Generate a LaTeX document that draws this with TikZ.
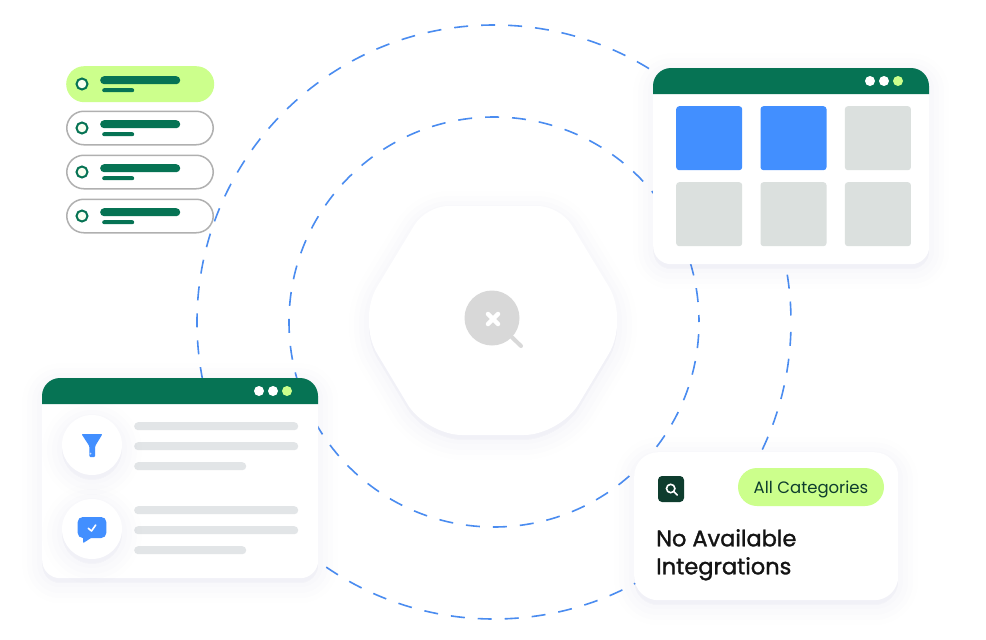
\documentclass[tikz,border=0pt]{standalone}
\usepackage{fontspec}
\setmainfont{Poppins}
\newfontfamily\titlefont{Poppins}[FakeBold=1.4]
\usetikzlibrary{positioning}
\definecolor{ringblue}{RGB}{74, 140, 240}
\definecolor{headgreen}{RGB}{6, 115, 84}
\definecolor{limegreen}{RGB}{204, 255, 140}
\definecolor{tilegray}{RGB}{219, 224, 222}
\definecolor{linegray}{RGB}{226, 229, 231}
\definecolor{pillgray}{RGB}{176, 176, 176}
\definecolor{tileblue}{RGB}{66, 143, 255}
\definecolor{loupegray}{RGB}{216, 216, 216}
\definecolor{darkgreen}{RGB}{14, 61, 46}
\definecolor{shadowblue}{RGB}{90, 100, 140}
\tikzset{
  softshadow/.style={
    preaction={draw=shadowblue, fill=shadowblue, line width=40pt, opacity=.005, transform canvas={yshift=-5pt}},
    preaction={draw=shadowblue, fill=shadowblue, line width=30pt, opacity=.006, transform canvas={yshift=-5pt}},
    preaction={draw=shadowblue, fill=shadowblue, line width=20pt, opacity=.007, transform canvas={yshift=-5pt}},
    preaction={draw=shadowblue, fill=shadowblue, line width=10pt, opacity=.008, transform canvas={yshift=-4pt}}},
  ring/.style={draw=ringblue, line width=1.6pt, dash pattern=on 14pt off 13pt},
  window/.style={softshadow, fill=white, rounded corners=18pt, minimum width=276pt, inner sep=0pt, anchor=north west},
  tile/.style={rounded corners=3pt, minimum width=66pt, minimum height=64pt, inner sep=0pt, anchor=north west},
  pill/.style={rounded corners=17pt, minimum width=146.5pt, minimum height=33.5pt, inner sep=0pt, anchor=north west},
  bar/.style={fill=#1, rounded corners=3.9pt, inner sep=0pt, anchor=north west},
  winbutton/.style={circle, fill=#1, minimum size=10pt, inner sep=0pt},
  badge/.style={softshadow, circle, fill=white, minimum size=60pt, inner sep=0pt}
}
\begin{document}
\begin{tikzpicture}[x=1pt, y=-1pt]
  \useasboundingbox (0,0) rectangle (986,640);
  \fill[white] (0,0) rectangle (986,640);

  % Dashed rings
  \draw[ring, dash phase=20.5pt] (494,322) circle[radius=297pt];
  \draw[ring, dash phase=7pt] (494,322) circle[radius=205pt];

  % Hexagon with loupe
  \path[softshadow, fill=white]
    (493,206) [rounded corners=22pt] -- (560,206) [rounded corners=39pt] -- (629,320)
    [rounded corners=36pt] -- (560,435) -- (426,435) [rounded corners=39pt] -- (357,320)
    [rounded corners=22pt] -- (426,206) -- cycle;
  \node[circle, fill=loupegray, minimum size=55pt, inner sep=0pt] (loupe) at (492,318) {};
  \coordinate (loupeend) at (521,346);
  \draw[loupegray, line width=4pt, line cap=round] (loupe) -- (loupeend);
  \draw[white, line width=4.5pt, line cap=round] (488,314) -- (498,324) (498,314) -- (488,324);

  % Filter list
  \node[pill, rounded corners=18pt, minimum width=148pt, minimum height=36pt, fill=limegreen] (item1) at (66,66) {};
  \foreach \row/\ypos in {2/110.5, 3/154.5, 4/198.5}
    \node[pill, draw=pillgray, line width=1.5pt, fill=white] (item\row) at (66,\ypos) {};
  \foreach \row/\ypos in {1/66, 2/110, 3/154, 4/198} {
    \node[circle, draw=headgreen, line width=2pt, fill=white!88!limegreen, minimum size=11pt, inner sep=0pt] (dot\row) at (82,\ypos+18) {};
    \node[bar=headgreen, minimum width=80pt, minimum height=8pt] (top\row) at (100,\ypos+10) {};
    \node[bar=headgreen, rounded corners=2pt, minimum width=32pt, minimum height=4pt] (sub\row) at (102,\ypos+22) {};
  }

  % Top right window
  \node[window, minimum height=196pt] (gridwin) at (653,68) {};
  \fill[headgreen] (653,94) [rounded corners=18pt] -- (653,68) -- (929,68) [sharp corners] -- (929,94) -- cycle;
  \node[winbutton=white] (gridbtn1) at (870,81) {};
  \node[winbutton=white] (gridbtn2) at (884,81) {};
  \node[winbutton=limegreen] (gridbtn3) at (898,81) {};
  \node[tile, fill=tileblue] (tile1) at (676,106) {};
  \node[tile, fill=tileblue] (tile2) at (760.3,106) {};
  \node[tile, fill=tilegray] (tile3) at (844.7,106) {};
  \node[tile, fill=tilegray] (tile4) at (676,182) {};
  \node[tile, fill=tilegray] (tile5) at (760.3,182) {};
  \node[tile, fill=tilegray] (tile6) at (844.7,182) {};

  % Bottom left window
  \node[window, minimum height=200pt] (listwin) at (42,378) {};
  \fill[headgreen] (42,404) [rounded corners=18pt] -- (42,378) -- (318,378) [sharp corners] -- (318,404) -- cycle;
  \node[winbutton=white] (listbtn1) at (259,391) {};
  \node[winbutton=white] (listbtn2) at (273,391) {};
  \node[winbutton=limegreen] (listbtn3) at (287,391) {};
  \foreach \block/\ypos in {a/422, b/506} {
    \node[bar=linegray, minimum width=164pt, minimum height=8pt] (line\block1) at (134,\ypos) {};
    \node[bar=linegray, minimum width=164pt, minimum height=8pt] (line\block2) at (134,\ypos+20) {};
    \node[bar=linegray, minimum width=112pt, minimum height=8pt] (line\block3) at (134,\ypos+40) {};
  }
  \node[badge] (funnelbadge) at (92,445) {};
  \node[badge] (chatbadge) at (92,529) {};
  % Funnel icon
  \fill[tileblue, rounded corners=1pt] (81.5,434) -- (102.5,434) -- (95.2,446) -- (95.2,457) -- (89.3,457) -- (89.3,446) -- cycle;
  \fill[white!70!tileblue] (90.5,453.5) circle[radius=1pt];
  % Chat icon
  \fill[tileblue, rounded corners=5pt] (77.7,517) -- (106.3,517) -- (106.3,538) -- (77.7,538) -- cycle;
  \fill[tileblue] (83,536) -- (83.3,543) -- (91,538) -- cycle;
  \draw[white, line width=1.6pt, line cap=round, line join=round] (88.3,528.3) -- (91.5,531) -- (95.7,525);

  % Bottom right card
  \node[window, rounded corners=24pt, minimum width=264pt, minimum height=148pt] (card) at (634,452) {};
  \node[fill=limegreen, rounded corners=19pt, minimum width=146pt, minimum height=38pt, inner sep=0pt, text depth=0pt, text=darkgreen, font=\fontsize{16.5}{20}\selectfont] (allcat) at (811,487) {All Categories};
  \node[fill=darkgreen, rounded corners=4pt, minimum size=26pt, inner sep=0pt] (searchicon) at (671,489) {};
  \draw[white, line width=1.6pt] (670.7,488.5) circle[radius=4.2pt];
  \coordinate (searchend) at (677.3,495);
  \draw[white, line width=1.6pt, line cap=round] (674,491.8) -- (searchend);
  \node[anchor=north west, inner sep=0pt, align=left, text=black!92, font=\titlefont\fontsize{22.5}{28}\selectfont] (cardtitle) at (656,529) {No Available\\Integrations};
\end{tikzpicture}
\end{document}
